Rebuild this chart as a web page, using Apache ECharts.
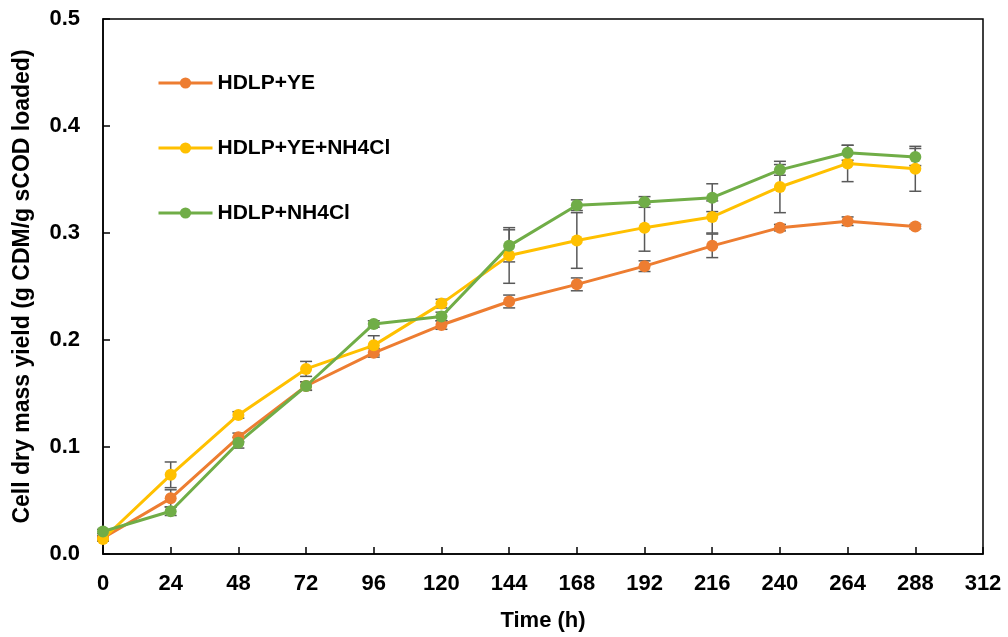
<!DOCTYPE html>
<html>
<head>
<meta charset="utf-8">
<title>Cell dry mass yield</title>
<script src="https://cdn.jsdelivr.net/npm/echarts@6/dist/echarts.min.js"></script>
<style>
  html, body { margin: 0; padding: 0; background: #ffffff; }
  #chart { width: 1008px; height: 637px; }
</style>
</head>
<body>
<div id="chart"></div>
<script>
// Sampling times (h)
const hours = [0, 24, 48, 72, 96, 120, 144, 168, 192, 216, 240, 264, 288];

// HDLP+YE
const ye    = [0.015, 0.052, 0.109, 0.157, 0.188, 0.214, 0.236, 0.252, 0.269, 0.288, 0.305, 0.311, 0.306];
const yeErr = [0.002, 0.008, 0.004, 0.004, 0.004, 0.004, 0.006, 0.006, 0.005, 0.011, 0.003, 0.004, 0.002];

// HDLP+YE+NH4Cl
const yeNh    = [0.014, 0.074, 0.130, 0.173, 0.195, 0.234, 0.279, 0.293, 0.305, 0.315, 0.343, 0.365, 0.360];
const yeNhErr = [0.002, 0.012, 0.003, 0.007, 0.009, 0.004, 0.026, 0.026, 0.022, 0.015, 0.024, 0.017, 0.021];

// HDLP+NH4Cl
const nh    = [0.021, 0.040, 0.104, 0.157, 0.215, 0.222, 0.288, 0.326, 0.329, 0.333, 0.359, 0.375, 0.371];
const nhErr = [0.002, 0.004, 0.005, 0.004, 0.003, 0.004, 0.015, 0.005, 0.005, 0.013, 0.005, 0.007, 0.008];

const seriesNames = ['HDLP+YE', 'HDLP+YE+NH4Cl', 'HDLP+NH4Cl'];
const seriesColors = ['#ED7D31', '#FFC000', '#70AD47'];

const FONT = '"Liberation Sans", Arial, sans-serif';

function lineSeries(name, vals, color) {
  return {
    name: name,
    type: 'line',
    data: hours.map((h, i) => [h, vals[i]]),
    symbol: 'circle',
    symbolSize: 12,
    lineStyle: { color: color, width: 3 },
    itemStyle: { color: color },
    z: 3
  };
}

// Vertical error bar with caps, drawn in data coordinates
function errorSeries(name, vals, errs) {
  return {
    name: name + ' error',
    type: 'custom',
    data: hours.map((h, i) => [h, vals[i] - errs[i], vals[i] + errs[i]]),
    renderItem: function (params, api) {
      const lo = api.coord([api.value(0), api.value(1)]);
      const hi = api.coord([api.value(0), api.value(2)]);
      const half = 6;
      const style = { stroke: '#595959', lineWidth: 1.5 };
      return {
        type: 'group',
        children: [
          { type: 'line', shape: { x1: lo[0], y1: lo[1], x2: hi[0], y2: hi[1] }, style: style },
          { type: 'line', shape: { x1: lo[0] - half, y1: lo[1], x2: lo[0] + half, y2: lo[1] }, style: style },
          { type: 'line', shape: { x1: hi[0] - half, y1: hi[1], x2: hi[0] + half, y2: hi[1] }, style: style }
        ]
      };
    },
    z: 2,
    silent: true
  };
}

const chart = echarts.init(document.getElementById('chart'), null, { renderer: 'canvas' });

chart.setOption({
  animation: false,
  backgroundColor: '#ffffff',
  grid: {
    left: 103, right: 25, top: 19, bottom: 83,
    show: true, borderColor: '#000000', borderWidth: 1.5
  },
  legend: {
    data: seriesNames,
    orient: 'vertical',
    left: 152,
    top: 67,
    itemWidth: 54,
    itemHeight: 14,
    itemGap: 43,
    lineStyle: { width: 3 },
    textStyle: { fontFamily: FONT, fontWeight: 'bold', fontSize: 21, color: '#000', lineHeight: 22 }
  },
  xAxis: {
    type: 'value',
    min: 0, max: 312, interval: 24,
    name: 'Time (h)',
    nameLocation: 'middle',
    nameGap: 56,
    nameTextStyle: { fontFamily: FONT, fontWeight: 'bold', fontSize: 22, color: '#000' },
    axisLine: { lineStyle: { color: '#000', width: 1.5 } },
    axisTick: { inside: true, length: 7, lineStyle: { color: '#000', width: 1.5 } },
    axisLabel: { margin: 19, fontFamily: FONT, fontWeight: 'bold', fontSize: 22, color: '#000' },
    splitLine: { show: false }
  },
  yAxis: {
    type: 'value',
    min: 0, max: 0.5, interval: 0.1,
    name: 'Cell dry mass yield (g CDM/g sCOD loaded)',
    nameLocation: 'middle',
    nameGap: 69,
    nameTextStyle: { fontFamily: FONT, fontWeight: 'bold', fontSize: 23, color: '#000' },
    axisLine: { lineStyle: { color: '#000', width: 1.5 } },
    axisTick: { inside: true, length: 7, lineStyle: { color: '#000', width: 1.5 } },
    axisLabel: {
      margin: 23, fontFamily: FONT, fontWeight: 'bold', fontSize: 22, color: '#000',
      formatter: v => v.toFixed(1)
    },
    splitLine: { show: false }
  },
  series: [
    errorSeries(seriesNames[0], ye, yeErr),
    errorSeries(seriesNames[1], yeNh, yeNhErr),
    errorSeries(seriesNames[2], nh, nhErr),
    lineSeries(seriesNames[0], ye, seriesColors[0]),
    lineSeries(seriesNames[1], yeNh, seriesColors[1]),
    lineSeries(seriesNames[2], nh, seriesColors[2])
  ]
});
</script>
</body>
</html>
